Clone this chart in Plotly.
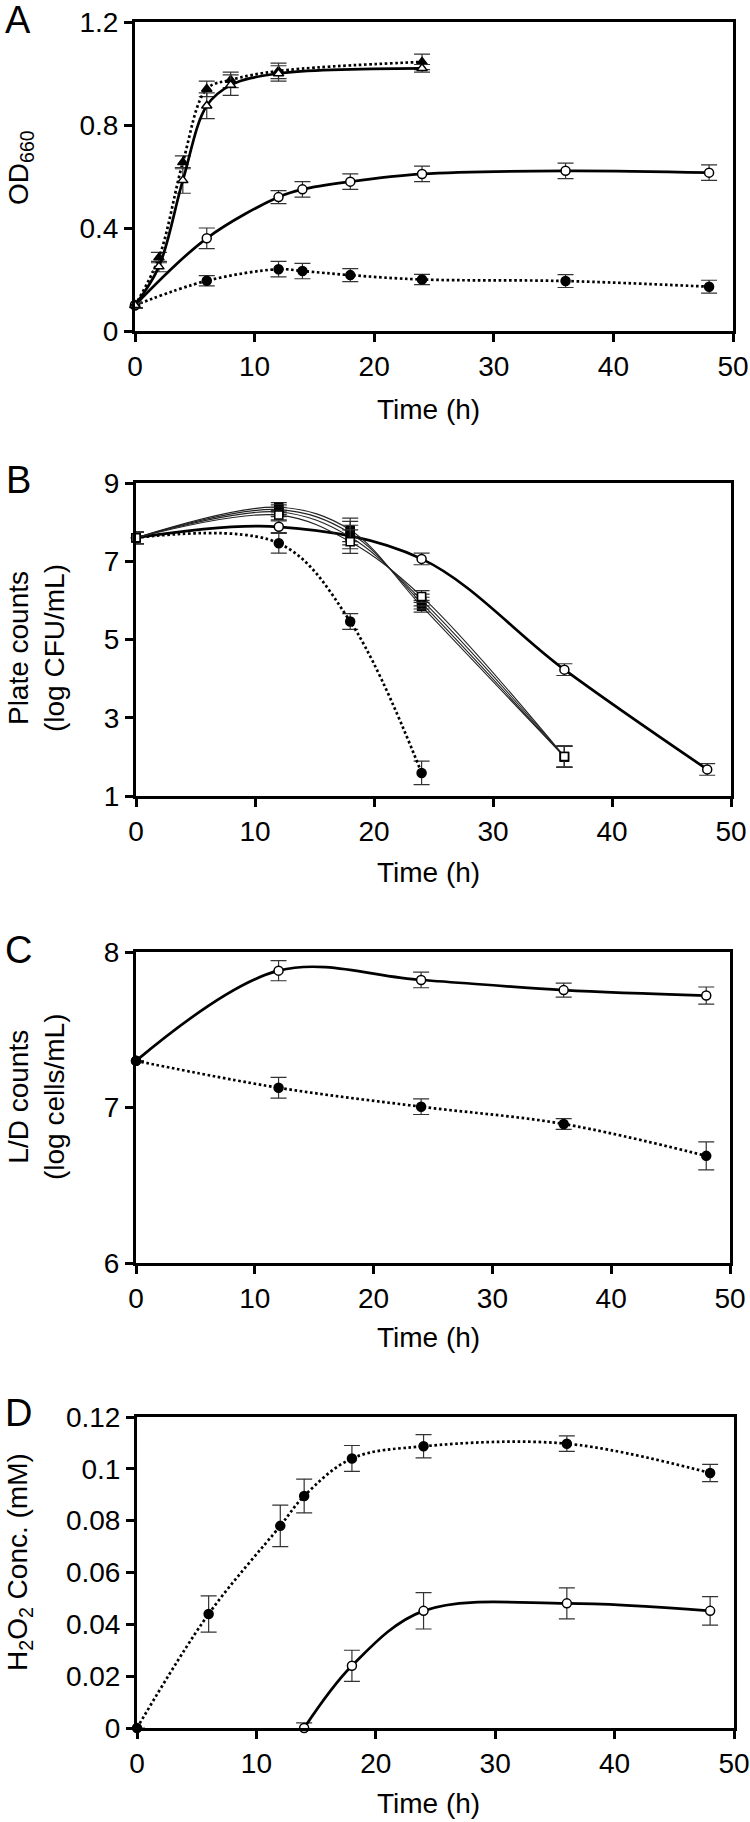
import plotly.graph_objects as go

W, H = 750, 1822
FONT = "Liberation Sans, Arial, sans-serif"

# ---------------- Data ----------------
# Panel A (OD660)
tA_tri = [0, 2, 4, 6, 8, 12, 24]
A_filled_tri = [0.1, 0.285, 0.655, 0.94, 0.975, 1.01, 1.045]
A_filled_tri_err = [0.01, 0.02, 0.025, 0.03, 0.03, 0.03, 0.03]
A_open_tri = [0.1, 0.25, 0.585, 0.875, 0.955, 1.0, 1.02]
A_open_tri_err = [0.01, 0.02, 0.05, 0.05, 0.04, 0.03, 0.015]
tA_circ = [0, 6, 12, 14, 18, 24, 36, 48]
A_open_circ = [0.1, 0.36, 0.52, 0.55, 0.58, 0.61, 0.622, 0.615]
A_open_circ_err = [0.01, 0.04, 0.025, 0.03, 0.03, 0.03, 0.03, 0.03]
A_filled_circ = [0.1, 0.195, 0.24, 0.233, 0.217, 0.2, 0.194, 0.172]
A_filled_circ_err = [0.01, 0.02, 0.03, 0.03, 0.025, 0.02, 0.025, 0.025]

# Panel B (plate counts)
tB_sq = [0, 12, 18, 24, 36]
B_sq1 = [7.6, 8.38, 7.8, 5.85, 2.0]
B_sq2 = [7.6, 8.32, 7.72, 5.93, 2.0]
B_sq3 = [7.6, 8.26, 7.62, 6.01, 2.01]
B_sq4 = [7.6, 8.18, 7.5, 6.1, 2.01]
B_sq_err = [0.15, 0.12, 0.3, 0.15, 0.27]
tB_open = [0, 12, 24, 36, 48]
B_open_circ = [7.6, 7.88, 7.06, 4.23, 1.68]
B_open_circ_err = [0.15, 0.15, 0.15, 0.15, 0.15]
tB_filled = [0, 12, 18, 24]
B_filled_circ = [7.6, 7.46, 5.46, 1.59]
B_filled_circ_err = [0.15, 0.25, 0.2, 0.3]

# Panel C (L/D counts)
tC = [0, 12, 24, 36, 48]
C_open_circ = [7.3, 7.88, 7.82, 7.755, 7.72]
C_open_circ_err = [0.0, 0.065, 0.05, 0.045, 0.055]
C_filled_circ = [7.3, 7.127, 7.005, 6.894, 6.689]
C_filled_circ_err = [0.0, 0.067, 0.05, 0.035, 0.09]

# Panel D (H2O2)
tD_filled = [0, 6, 12, 14, 18, 24, 36, 48]
D_filled_circ = [0.0, 0.044, 0.078, 0.0895, 0.104, 0.1087, 0.1097, 0.0984]
D_filled_circ_err = [0.0, 0.007, 0.008, 0.0065, 0.005, 0.0045, 0.003, 0.0033]
tD_open = [14, 18, 24, 36, 48]
D_open_circ = [0.0, 0.024, 0.0452, 0.0481, 0.0452]
D_open_circ_err = [0.002, 0.006, 0.007, 0.006, 0.0055]

x_ticks = [0, 10, 20, 30, 40, 50]
A_ticks = [0, 0.4, 0.8, 1.2]
A_ticktext = ["0", "0.4", "0.8", "1.2"]
B_ticks = [1, 3, 5, 7, 9]
C_ticks = [6, 7, 8]
D_ticks = [0, 0.02, 0.04, 0.06, 0.08, 0.1, 0.12]
D_ticktext = ["0", "0.02", "0.04", "0.06", "0.08", "0.1", "0.12"]

# ---------------- Layout geometry (pixels) ----------------
panels = {
    1: dict(top=22, bottom=331, left=135, right=733),
    2: dict(top=483, bottom=796, left=136, right=731),
    3: dict(top=952, bottom=1263, left=136, right=730),
    4: dict(top=1417, bottom=1728, left=137, right=734),
}

def px_x(p):
    return p / W

def px_y(p):
    return 1 - p / H

fig = go.Figure()

SOLID = dict(color="black", width=2.7, shape="spline", smoothing=1)
DOT = dict(color="black", width=2.7, shape="spline", smoothing=1, dash="2.6px,2.6px")
THIN = dict(color="#222", width=1.1, shape="spline", smoothing=1)

def err(vals):
    return dict(type="data", array=vals, visible=True, color="#333", thickness=1.2, width=8)

def add(x, y, e, line, symbol, filled, axis, msize=9):
    xa = "x" if axis == 1 else f"x{axis}"
    ya = "y" if axis == 1 else f"y{axis}"
    fig.add_trace(go.Scatter(
        x=x, y=y, mode="lines+markers", xaxis=xa, yaxis=ya,
        line=line, error_y=err(e), cliponaxis=False,
        marker=dict(symbol=symbol, size=msize,
                    color="black" if filled else "white",
                    line=dict(color="black", width=1.5)),
        showlegend=False, hoverinfo="skip"))

# Panel A
add(tA_circ, A_filled_circ, A_filled_circ_err, DOT, "circle", True, 1)
add(tA_circ, A_open_circ, A_open_circ_err, SOLID, "circle", False, 1)
add(tA_tri, A_filled_tri, A_filled_tri_err, DOT, "triangle-up", True, 1)
add(tA_tri, A_open_tri, A_open_tri_err, SOLID, "triangle-up", False, 1)

# Panel B
add(tB_filled, B_filled_circ, B_filled_circ_err, DOT, "circle", True, 2)
add(tB_open, B_open_circ, B_open_circ_err, SOLID, "circle", False, 2)
add(tB_sq, B_sq1, B_sq_err, THIN, "square", True, 2, 8)
add(tB_sq, B_sq2, B_sq_err, THIN, "square", True, 2, 8)
add(tB_sq, B_sq3, B_sq_err, THIN, "square", True, 2, 8)
add(tB_sq, B_sq4, B_sq_err, THIN, "square", False, 2, 8)

# Panel C
add(tC, C_open_circ, C_open_circ_err, SOLID, "circle", False, 3)
add(tC, C_filled_circ, C_filled_circ_err, DOT, "circle", True, 3)

# Panel D
add(tD_filled, D_filled_circ, D_filled_circ_err, DOT, "circle", True, 4)
add(tD_open, D_open_circ, D_open_circ_err, SOLID, "circle", False, 4)

TICKFONT = dict(family=FONT, size=28, color="black")
common_axis = dict(showline=True, mirror=True, linecolor="black", linewidth=3,
                   ticks="outside", ticklen=8, tickwidth=3, tickcolor="black",
                   showgrid=False, zeroline=False, tickfont=TICKFONT,
                   automargin=False)

yinfo = {
    1: dict(range=[0, 1.2], tickvals=A_ticks, ticktext=A_ticktext),
    2: dict(range=[1, 9], tickvals=B_ticks, ticktext=[str(v) for v in B_ticks]),
    3: dict(range=[6, 8], tickvals=C_ticks, ticktext=[str(v) for v in C_ticks]),
    4: dict(range=[0, 0.12], tickvals=D_ticks, ticktext=D_ticktext),
}

layout = dict(template="none", width=W, height=H,
              margin=dict(l=0, r=0, t=0, b=0, pad=0, autoexpand=False),
              plot_bgcolor="white", paper_bgcolor="white",
              font=dict(family=FONT, color="black"))
for i, p in panels.items():
    xk = "xaxis" if i == 1 else f"xaxis{i}"
    yk = "yaxis" if i == 1 else f"yaxis{i}"
    layout[xk] = dict(common_axis, domain=[px_x(p["left"]), px_x(p["right"])],
                      range=[0, 50], tickvals=x_ticks,
                      anchor="y" if i == 1 else f"y{i}")
    layout[yk] = dict(common_axis, domain=[px_y(p["bottom"]), px_y(p["top"])],
                      anchor="x" if i == 1 else f"x{i}", **yinfo[i])
fig.update_layout(**layout)

ann = []
# Panel letters
for letter, cy in [("A", 20), ("B", 480), ("C", 950), ("D", 1413)]:
    ann.append(dict(text=letter, x=px_x(18), y=px_y(cy), xref="paper", yref="paper",
                    showarrow=False, xanchor="center", yanchor="middle",
                    font=dict(family=FONT, size=38, color="black")))
# X titles
for cy in [409, 872, 1337, 1803]:
    ann.append(dict(text="Time (h)", x=px_x(428), y=px_y(cy), xref="paper", yref="paper",
                    showarrow=False, xanchor="center", yanchor="middle",
                    font=dict(family=FONT, size=28, color="black")))
# Y titles
ytitles = [
    ("OD<sub>660</sub>", 20, 168),
    ("Plate counts<br>(log CFU/mL)", 36, 648),
    ("L/D counts<br>(log cells/mL)", 36, 1097),
    ("H<sub>2</sub>O<sub>2</sub> Conc. (mM)", 19, 1562),
]
for txt, cx, cy in ytitles:
    ann.append(dict(text=txt, x=px_x(cx), y=px_y(cy), xref="paper", yref="paper",
                    showarrow=False, xanchor="center", yanchor="middle", textangle=-90,
                    font=dict(family=FONT, size=28, color="black")))
fig.update_layout(annotations=ann)

fig.write_html(
    "out.html",
    config={"displayModeBar": False, "staticPlot": True},
    post_script="document.body.style.margin='0px';document.body.style.padding='0px';"
                "document.documentElement.style.overflow='hidden';",
)
